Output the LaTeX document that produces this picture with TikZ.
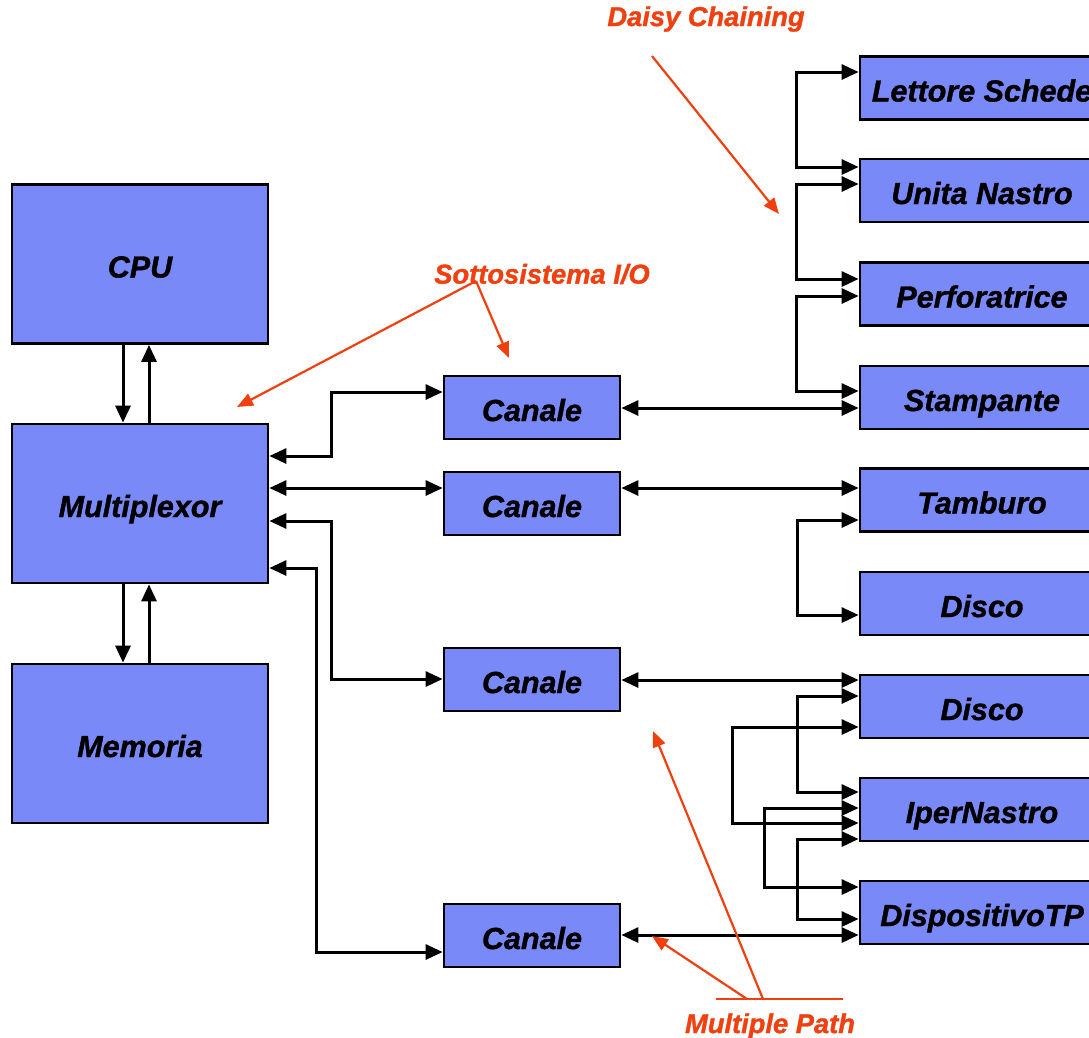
\documentclass[tikz,border=0pt]{standalone}
\usepackage{fontspec}
\setmainfont{Liberation Sans}
\newfontface\heavyfont{Liberation Sans Bold Italic}[FakeBold=1.2]
\usetikzlibrary{arrows.meta}
\definecolor{boxblue}{RGB}{122,137,248}
\definecolor{note}{RGB}{240,64,16}
\tikzset{
  box/.style={draw=black, line width=2.8pt, fill=boxblue, inner sep=0pt,
    text height=27pt, text depth=0pt,
    font=\fontsize{30.5}{36}\heavyfont},
  unitbox/.style={box, minimum width=256pt, minimum height=159pt},
  chanbox/.style={box, minimum width=176pt, minimum height=63pt},
  devbox/.style={box, minimum width=244pt, minimum height=63pt},
  tip/.tip={Triangle[length=17pt,width=15pt]},
  link/.style={line width=3pt, -tip},
  bilink/.style={line width=3pt, tip-tip},
  noteline/.style={draw=note, line width=2.2pt},
  notearrow/.style={noteline, -{Triangle[length=16pt,width=13pt]}},
  notetext/.style={text=note, inner sep=0pt,
    font=\fontsize{27.3}{31}\heavyfont},
}
\begin{document}
\begin{tikzpicture}[x=1pt, y=-1pt]
  \clip (0,0) rectangle (1089,1037);
  \fill[white] (0,0) rectangle (1089,1037);

  % main units
  \node[unitbox] (cpu) at (140,264) {CPU};
  \node[unitbox] (mux) at (140,503.5) {Multiplexor};
  \node[unitbox] (mem) at (140,743.5) {Memoria};

  % channels
  \node[chanbox] (can1) at (532,407.5) {Canale};
  \node[chanbox] (can2) at (532,503.5) {Canale};
  \node[chanbox] (can3) at (532,679.5) {Canale};
  \node[chanbox] (can4) at (532,935.5) {Canale};

  % peripheral devices (the row runs past the right edge)
  \node[devbox] (lett)   at (982,88)    {Lettore Schede};
  \node[devbox] (unita)  at (982,190.5) {Unita Nastro};
  \node[devbox] (perf)   at (982,294)   {Perforatrice};
  \node[devbox] (stamp)  at (982,397.5) {Stampante};
  \node[devbox] (tamb)   at (982,500)   {Tamburo};
  \node[devbox] (disco1) at (982,603.5) {Disco};
  \node[devbox] (disco2) at (982,706.5) {Disco};
  \node[devbox] (iper)   at (982,809.5) {IperNastro};
  \node[devbox] (dtp)    at (982,912.5) {DispositivoTP};

  % CPU / memory buses
  \draw[link] (cpu.south -| 123,0) -- (mux.north -| 123,0);
  \draw[link] (mux.north -| 149,0) -- (cpu.south -| 149,0);
  \draw[link] (mux.south -| 123,0) -- (mem.north -| 123,0);
  \draw[link] (mem.north -| 149,0) -- (mux.south -| 149,0);

  % multiplexor to channels
  \draw[bilink] (mux.east |- 0,456) -- (331,456) |- (can1.west |- 0,392);
  \draw[bilink] (mux.east |- 0,488) -- (can2.west |- 0,488);
  \draw[bilink] (mux.east |- 0,521) -- (331,521) |- (can3.west |- 0,679);
  \draw[bilink] (mux.east |- 0,568) -- (316,568) |- (can4.west |- 0,952);

  % channels to devices
  \draw[bilink] (can1.east |- 0,408) -- (stamp.west |- 0,408);
  \draw[bilink] (can2.east |- 0,488) -- (tamb.west |- 0,488);
  \draw[bilink] (can3.east |- 0,680) -- (disco2.west |- 0,680);
  \draw[bilink] (can4.east |- 0,935) -- (dtp.west |- 0,935);

  % daisy chains between devices
  \draw[bilink] (lett.west |- 0,72)   -- (796,72)  |- (unita.west |- 0,167);
  \draw[bilink] (unita.west |- 0,184) -- (796,184) |- (perf.west |- 0,279);
  \draw[bilink] (perf.west |- 0,296)  -- (796,296) |- (stamp.west |- 0,391);
  \draw[bilink] (tamb.west |- 0,520)  -- (797,520) |- (disco1.west |- 0,615);
  \draw[bilink] (disco2.west |- 0,696) -- (797,696) |- (iper.west |- 0,792);
  \draw[bilink] (disco2.west |- 0,727) -- (732,727) |- (iper.west |- 0,823);
  \draw[bilink] (iper.west |- 0,808)  -- (764,808) |- (dtp.west |- 0,887);
  \draw[bilink] (iper.west |- 0,839)  -- (797,839) |- (dtp.west |- 0,919);

  % annotations
  \node[notetext] (daisy) at (706,19) {Daisy Chaining};
  \coordinate (daisyfrom) at (652,56);
  \coordinate (daisyto) at (779,214);
  \draw[notearrow] (daisyfrom) -- (daisyto);

  \node[notetext] (subsys) at (542,274) {Sottosistema I/O};
  \coordinate (subfork) at (476,281);
  \coordinate (subtoA) at (237,407);
  \coordinate (subtoB) at (509,358);
  \draw[notearrow] (subfork) -- (subtoA);
  \draw[notearrow] (subfork) -- (subtoB);

  \node[notetext] (multi) at (770,1026) {Multiple Path};
  \coordinate (baseL) at (716,999);
  \coordinate (baseR) at (843,999);
  \coordinate (forkA) at (747,999);
  \coordinate (forkB) at (763,999);
  \coordinate (multiA) at (652,936);
  \coordinate (multiB) at (653,731);
  \draw[noteline] (baseL) -- (baseR);
  \draw[notearrow] (forkA) -- (multiA);
  \draw[notearrow] (forkB) -- (multiB);
\end{tikzpicture}
\end{document}
